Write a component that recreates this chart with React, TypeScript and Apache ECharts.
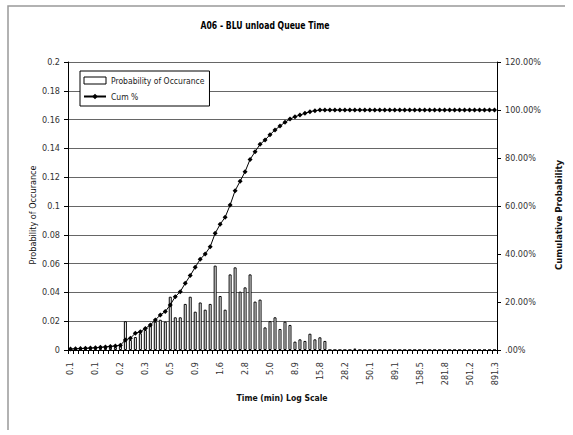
import React, { useEffect, useRef } from "react";
import * as echarts from "echarts";

const FONT = "'Liberation Sans Narrow','DejaVu Sans Condensed','Liberation Sans',Arial,sans-serif";

const tickLabels = ["0.1", "0.1", "0.2", "0.3", "0.5", "0.9", "1.6", "2.8", "5.0", "8.9", "15.8", "28.2", "50.1", "89.1", "158.5", "281.8", "501.2", "891.3"];

// probability of occurance per bin (86 bins)
const probValues = [
  0.001, 0.001, 0.001, 0.002, 0.001, 0.002, 0.002, 0.002, 0.002, 0.002, 0.003,
  0.020, 0.007, 0.009, 0.0116, 0.0139, 0.0174, 0.0197, 0.021, 0.0197,
  0.037, 0.0227, 0.0227, 0.032, 0.037, 0.0266, 0.033, 0.028, 0.032, 0.0586,
  0.0375, 0.028, 0.0525, 0.0574, 0.0405, 0.0435, 0.0525, 0.0336, 0.035,
  0.0157, 0.020, 0.0227, 0.0146, 0.0197, 0.0174, 0.0058, 0.0074, 0.0063, 0.0113, 0.0074, 0.0088, 0.0063,
  0, 0, 0, 0, 0, 0.001, 0, 0, 0, 0,
  0, 0, 0, 0, 0, 0, 0, 0, 0, 0,
  0, 0, 0, 0, 0, 0, 0, 0, 0, 0,
  0, 0, 0, 0,
];

// cumulative % per bin
const cumValues = [
  0.4, 0.5, 0.6, 0.7, 0.8, 0.9, 1.1, 1.3, 1.5, 1.7, 2.0,
  4.2, 4.9, 7.0, 7.6, 9.0, 10.4, 12.5, 14.6, 16.0,
  18.8, 22.2, 24.3, 27.8, 31.0, 34.5, 37.8, 40.0, 43.0, 48.6,
  52.4, 55.3, 60.4, 66.4, 70.3, 74.3, 79.4, 82.6, 85.7,
  87.5, 89.7, 91.7, 93.3, 94.9, 96.2, 97.2, 97.9, 98.6, 99.3, 99.7,
  100, 100, 100, 100, 100, 100, 100, 100, 100, 100,
  100, 100, 100, 100, 100, 100, 100, 100, 100, 100,
  100, 100, 100, 100, 100, 100, 100, 100, 100, 100,
  100, 100, 100, 100, 100, 100,
];

const categories = probValues.map((_, i) => (i % 5 === 0 ? tickLabels[i / 5] : ""));

const centered = { align: "center", verticalAlign: "middle", textAlign: "center", textVerticalAlign: "middle" };

export default function App() {
  const ref = useRef<HTMLDivElement>(null);
  useEffect(() => {
    if (!ref.current) return;
    const chart = echarts.init(ref.current, undefined, { renderer: "svg" });
    chart.setOption({
      animation: false,
      backgroundColor: "#fff",
      textStyle: { fontFamily: FONT },
      grid: { left: 68, right: 76, top: 62, bottom: 85 },
      legend: {
        left: 80,
        top: 71,
        orient: "vertical",
        backgroundColor: "#fff",
        borderColor: "#000",
        borderWidth: 1,
        borderRadius: 0,
        padding: [5, 5, 5, 3],
        itemGap: 7,
        itemWidth: 22,
        itemHeight: 7,
        textStyle: { fontSize: 8.5, color: "#222", fontFamily: FONT },
        data: [
          { name: "Probability of Occurance", icon: "rect", itemStyle: { color: "#fff", borderColor: "#000", borderWidth: 1 } },
          { name: "Cum %" },
        ],
      },
      xAxis: {
        type: "category",
        data: categories,
        boundaryGap: true,
        axisLine: { lineStyle: { color: "#000", width: 1 } },
        axisTick: { show: true, interval: 0, length: 4, lineStyle: { color: "#000" } },
        axisLabel: { interval: 0, rotate: 90, fontSize: 9, color: "#333", margin: 12, fontFamily: FONT },
        splitLine: { show: false },
      },
      yAxis: [
        {
          type: "value",
          min: 0,
          max: 0.2,
          interval: 0.02,
          axisLine: { show: true, lineStyle: { color: "#000" } },
          axisTick: { show: true, length: 4, lineStyle: { color: "#000" } },
          axisLabel: {
            fontSize: 9,
            color: "#333",
            margin: 8,
            fontFamily: FONT,
            formatter: (v: number) => String(+v.toFixed(2)),
          },
          splitLine: { lineStyle: { color: "#666", width: 1 } },
        },
        {
          type: "value",
          min: 0,
          max: 120,
          interval: 20,
          position: "right",
          axisLine: { show: true, lineStyle: { color: "#000" } },
          axisTick: { show: true, length: 4, lineStyle: { color: "#000" } },
          axisLabel: {
            fontSize: 9,
            color: "#333",
            margin: 8,
            fontFamily: FONT,
            formatter: (v: number) => (v === 0 ? ".00%" : v.toFixed(2) + "%"),
          },
          splitLine: { show: false },
        },
      ],
      series: [
        {
          name: "Probability of Occurance",
          type: "bar",
          data: probValues,
          barWidth: 3,
          itemStyle: { color: "#fff", borderColor: "#000", borderWidth: 1 },
          yAxisIndex: 0,
        },
        {
          name: "Cum %",
          type: "line",
          data: cumValues,
          yAxisIndex: 1,
          symbol: "diamond",
          symbolSize: 5,
          lineStyle: { color: "#000", width: 1 },
          itemStyle: { color: "#000" },
        },
      ],
      graphic: [
        {
          type: "polyline",
          shape: { points: [[8, 430], [8, 6], [565, 6]] },
          style: { stroke: "#999", lineWidth: 1.5, fill: null },
          silent: true,
        },
        {
          type: "text",
          x: 265,
          y: 25,
          scaleX: 0.78,
          style: { text: "A06 - BLU unload Queue Time", font: `bold 11px ${FONT}`, fill: "#000", ...centered },
        },
        {
          type: "text",
          x: 33,
          y: 215,
          rotation: Math.PI / 2,
          style: { text: "Probability of Occurance", font: `9px ${FONT}`, fill: "#111", ...centered },
        },
        {
          type: "text",
          x: 558,
          y: 215,
          rotation: Math.PI / 2,
          style: { text: "Cumulative Probability", font: `bold 9.5px ${FONT}`, fill: "#111", ...centered },
        },
        {
          type: "text",
          x: 282,
          y: 398,
          scaleX: 0.9,
          style: { text: "Time (min) Log Scale", font: `bold 9.5px ${FONT}`, fill: "#111", ...centered },
        },
      ],
    });
    return () => chart.dispose();
  }, []);
  return <div ref={ref} style={{ position: "fixed", left: 0, top: 0, width: 573, height: 435 }} />;
}
